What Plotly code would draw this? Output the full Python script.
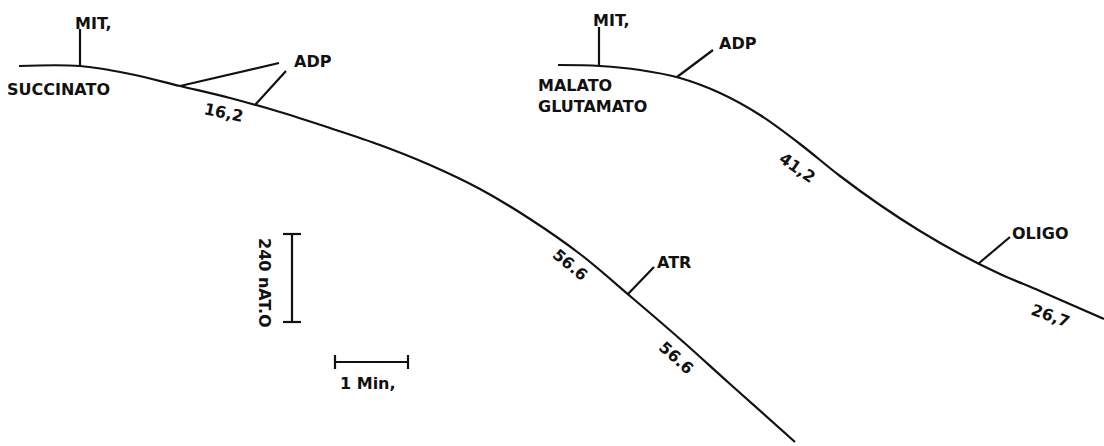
import plotly.graph_objects as go

# Oxygen electrode traces (chart units: x to the right, y downward = O2 consumed)
succ_x = [19, 80, 130, 180, 230, 280, 330, 380, 430, 480, 530, 580, 630, 680, 730, 795]
succ_y = [66, 66, 74, 86, 98, 112, 128, 145, 165, 189, 219, 254, 296, 339, 384, 442]

mal_x = [558, 600, 640, 680, 720, 760, 800, 840, 880, 920, 960, 1000, 1040, 1104]
mal_y = [65, 66, 70, 78, 93, 115, 144, 176, 205, 231, 254, 274, 291, 319]

# Addition markers: (x0, y0, x1, y1)
additions = [
    (80, 66, 80, 29),      # MIT, (succinato)
    (180, 86, 279, 63),    # ADP
    (255, 105, 286, 71),   # ADP
    (628, 294, 654, 267),  # ATR
    (599, 66, 599, 27),    # MIT, (malato/glutamato)
    (677, 77, 713, 50),    # ADP
    (978, 264, 1010, 237), # OLIGO
]

# Rate labels along the traces: (x, y, text, angle)
rates = [
    (223, 112, "16,2", 12),
    (570, 264, "56.6", 40),
    (676, 357, "56.6", 42),
    (797, 167, "41,2", 35),
    (1050, 315, "26,7", 20),
]

# Plain labels: (x, y, text, anchor)
labels = [
    (73, 23, "MIT,", "left"),
    (5, 89, "SUCCINATO", "left"),
    (292, 61, "ADP", "left"),
    (655, 262, "ATR", "left"),
    (591, 20, "MIT,", "left"),
    (536, 85, "MALATO", "left"),
    (536, 106, "GLUTAMATO", "left"),
    (717, 43, "ADP", "left"),
    (1010, 233, "OLIGO", "left"),
]

# Calibration bars
o2_bar = dict(x=292, y0=234, y1=322, cap=9, label="240 nAT.O")
time_bar = dict(y=362, x0=335, x1=408, cap=7, label="1 Min,")

FONT = dict(family="DejaVu Sans, Liberation Sans, sans-serif", size=16, color="#111111")
INK = "#111111"
LW = 2.2

fig = go.Figure()


def seg(xs, ys, width=LW, **line):
    fig.add_trace(go.Scatter(
        x=xs, y=ys, mode="lines",
        line=dict(color=INK, width=width, **line),
        hoverinfo="skip", showlegend=False,
    ))


for xs, ys in ((succ_x, succ_y), (mal_x, mal_y)):
    seg(xs, ys, shape="spline", smoothing=1.0)

for x0, y0, x1, y1 in additions:
    seg([x0, x1], [y0, y1])

# vertical O2 bar with end caps
b = o2_bar
seg([b["x"], b["x"]], [b["y0"], b["y1"]])
seg([b["x"] - b["cap"], b["x"] + b["cap"]], [b["y0"], b["y0"]])
seg([b["x"] - b["cap"], b["x"] + b["cap"]], [b["y1"], b["y1"]])

# horizontal time bar with end caps
t = time_bar
seg([t["x0"], t["x1"]], [t["y"], t["y"]])
seg([t["x0"], t["x0"]], [t["y"] - t["cap"], t["y"] + t["cap"]])
seg([t["x1"], t["x1"]], [t["y"] - t["cap"], t["y"] + t["cap"]])

annotations = []
for x, y, txt, anchor in labels:
    annotations.append(dict(x=x, y=y, text=f"<b>{txt}</b>", showarrow=False,
                            xanchor=anchor, yanchor="middle", font=FONT))
for x, y, txt, ang in rates:
    annotations.append(dict(x=x, y=y, text=f"<b>{txt}</b>", showarrow=False,
                            textangle=ang, xanchor="center", yanchor="middle",
                            font=FONT))
annotations.append(dict(x=265, y=283, text=f"<b>{o2_bar['label']}</b>",
                        showarrow=False, textangle=90, xanchor="center",
                        yanchor="middle", font=FONT))
annotations.append(dict(x=368, y=383, text=f"<b>{time_bar['label']}</b>",
                        showarrow=False, xanchor="center", yanchor="middle",
                        font=FONT))

fig.update_layout(
    width=1104, height=446,
    margin=dict(l=0, r=0, t=0, b=0),
    paper_bgcolor="white", plot_bgcolor="white",
    xaxis=dict(range=[0, 1104], visible=False, fixedrange=True),
    yaxis=dict(range=[446, 0], visible=False, fixedrange=True),
    annotations=annotations,
)

fig.write_html("out.html")
